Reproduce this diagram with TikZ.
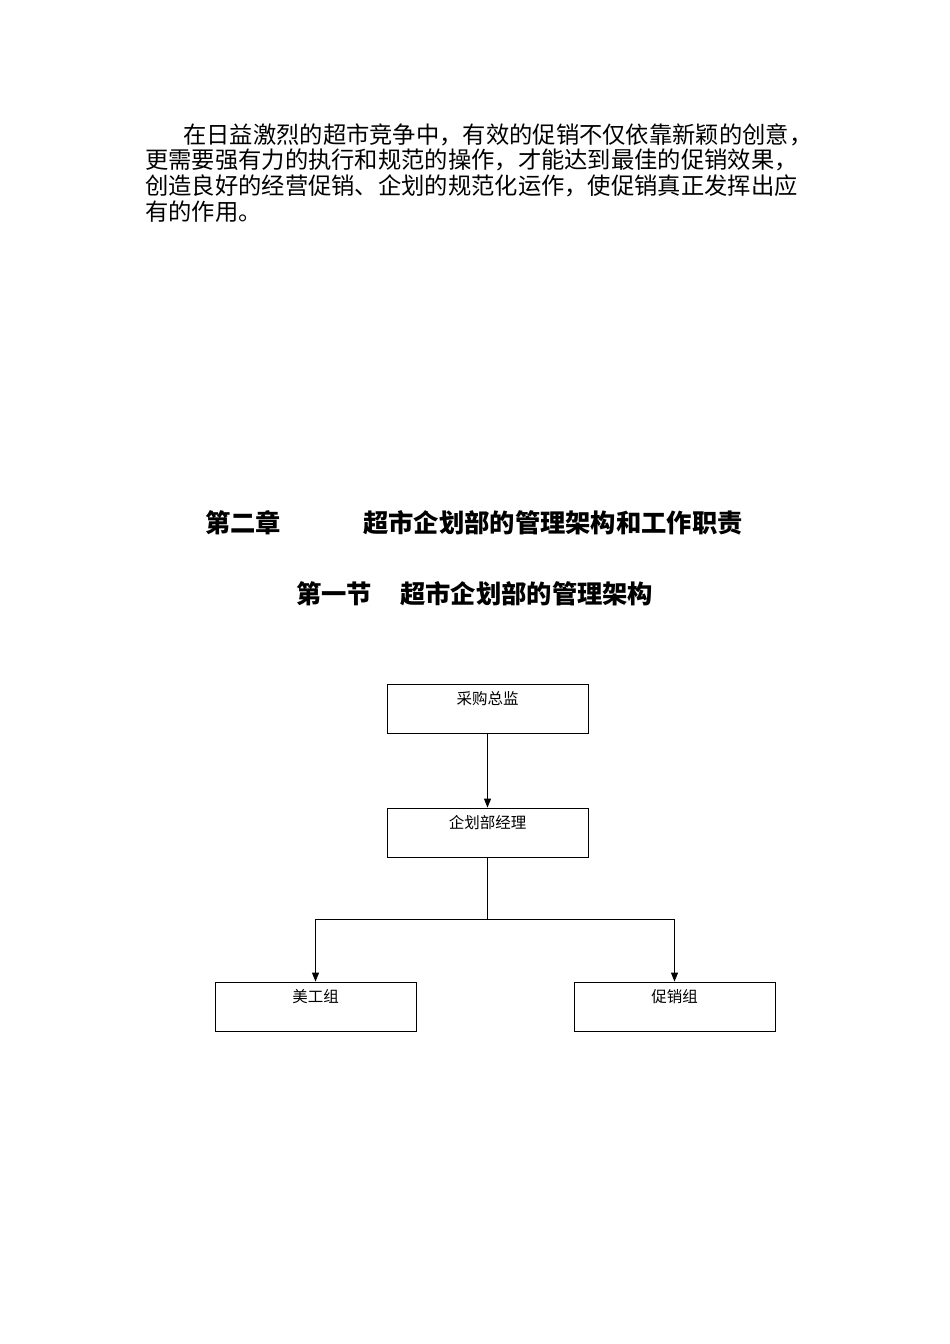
\documentclass[tikz,border=0pt]{standalone}
\usepackage{fontspec}
\setmainfont{Noto Sans CJK SC}
\usetikzlibrary{arrows.meta}
\tikzset{box/.style={draw,thick,minimum width=201pt,minimum height=49pt,inner sep=0pt},
lbl/.style={font=\fontsize{15.5}{15}\selectfont},
para/.style={anchor=west,inner sep=0pt,font=\fontsize{23.3}{24}\selectfont},
head/.style={inner sep=0pt,font=\fontsize{25.3}{26}\selectfont\bfseries},
arr/.style={thick,-{Triangle[length=9pt,width=7pt]}}}
\begin{document}
\begin{tikzpicture}[x=1pt,y=-1pt]
\useasboundingbox (0,0) rectangle (950,1344);
\node[para] (p1) at (183,135) {在日益激烈的超市竞争中，有效的促销不仅依靠新颖的创意，};
\node[para] (p2) at (145,160) {更需要强有力的执行和规范的操作，才能达到最佳的促销效果，};
\node[para] (p3) at (145,186) {创造良好的经营促销、企划的规范化运作，使促销真正发挥出应};
\node[para] (p4) at (145,212) {有的作用。};
\node[head,anchor=west] (h1) at (205,523) {第二章};
\node[head,anchor=west] (h2) at (363,523) {超市企划部的管理架构和工作职责};
\node[head,anchor=west] (h3) at (296,594) {第一节};
\node[head,anchor=west] (h4) at (400,594) {超市企划部的管理架构};
\node[box] (a) at (487.5,708.5) {};
\node[lbl] at (487.5,699) {采购总监};
\node[box] (b) at (487.5,832.5) {};
\node[lbl] at (487.5,823) {企划部经理};
\node[box] (c) at (315.5,1006.5) {};
\node[lbl] at (315.5,997) {美工组};
\node[box] (d) at (674.5,1006.5) {};
\node[lbl] at (674.5,997) {促销组};
\coordinate (j) at (487.5,919);
\draw[arr] (a.south) -- (b.north);
\draw[thick] (b.south) -- (j);
\draw[arr] (j) -| (c.north);
\draw[arr] (j) -| (d.north);
\end{tikzpicture}
\end{document}
